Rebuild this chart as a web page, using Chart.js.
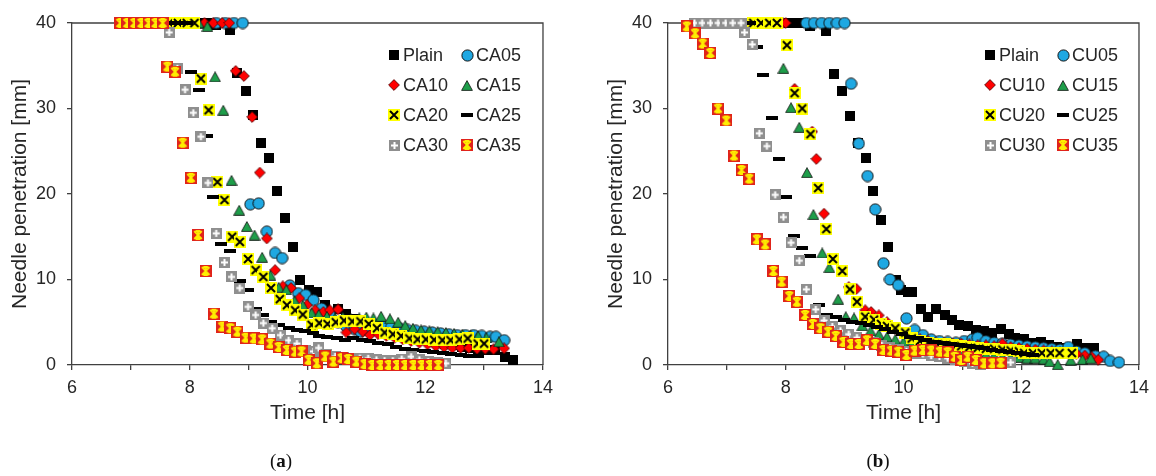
<!DOCTYPE html>
<html>
<head>
<meta charset="utf-8">
<script src="https://cdn.jsdelivr.net/npm/chart.js@4.4.1/dist/chart.umd.min.js"></script>
<style>
  html, body { margin: 0; padding: 0; background: #fff; }
  #wrap { position: relative; width: 1156px; height: 476px; overflow: hidden; }
  canvas { position: absolute; top: 0; }
  .cap { position: absolute; top: 450px; width: 60px; text-align: center; font-family: "Liberation Serif", "DejaVu Serif", serif; font-size: 19px; color: #111; }
</style>
</head>
<body>
<div id="wrap">
  <canvas id="ca" width="560" height="476" style="left:0px"></canvas>
  <canvas id="cb" width="560" height="476" style="left:596px"></canvas>
  <div class="cap" style="left:251px">(<b>a</b>)</div>
  <div class="cap" style="left:848px">(<b>b</b>)</div>
</div>
<script>
// ---------- tick labels ----------
const xTickLabels = ['6', '8', '10', '12', '14'];
const yTickLabels = ['0', '10', '20', '30', '40'];
const xTitle = 'Time [h]';
const yTitle = 'Needle penetration [mm]';

// ---------- series names ----------
const namesA = ['Plain', 'CA05', 'CA10', 'CA15', 'CA20', 'CA25', 'CA30', 'CA35'];
const namesB = ['Plain', 'CU05', 'CU10', 'CU15', 'CU20', 'CU25', 'CU30', 'CU35'];

// ---------- panel (a) data: [time h, penetration mm] ----------
const aPlain = [[8.15,40],[8.3,40],[8.45,39.8],[8.68,39.2],[8.81,34.1],[8.95,32.1],[9.08,29.2],[9.21,26.0],[9.35,24.2],[9.49,20.3],[9.61,17.2],[9.75,13.8],[9.88,10.0],[10.03,8.8],[10.16,8.5],[10.3,7.0],[10.52,6.6],[10.66,6.0],[10.8,5.4],[10.94,5.0],[11.08,4.8],[11.22,4.6],[11.36,4.4],[11.5,4.2],[11.64,4.0],[11.78,3.7],[11.92,3.4],[12.06,3.1],[12.2,2.8],[12.34,2.5],[12.48,2.3],[12.62,2.1],[12.76,2.0],[12.9,1.9],[13.04,1.8],[13.18,1.7],[13.36,0.97],[13.49,0.58]];
const aCA05 = [[8.45,40],[8.6,40],[8.75,40],[8.9,40],[9.03,18.8],[9.17,18.9],[9.31,15.6],[9.45,13.1],[9.57,12.5],[9.7,9.3],[9.84,8.4],[9.97,8.2],[10.1,7.6],[10.24,6.6],[10.38,5.9],[10.52,5.0],[10.66,4.5],[10.8,4.2],[10.9,3.9],[11.0,4.1],[11.14,4.3],[11.28,4.5],[11.42,4.4],[11.56,4.3],[11.7,4.1],[11.84,4.0],[11.98,3.9],[12.12,3.8],[12.26,3.7],[12.4,3.6],[12.54,3.5],[12.68,3.5],[12.82,3.5],[12.96,3.4],[13.1,3.3],[13.2,3.3],[13.34,2.9]];
const aCA10 = [[8.25,40],[8.4,40],[8.55,40],[8.67,40],[8.78,34.4],[8.92,33.8],[9.06,29.0],[9.19,22.5],[9.31,14.8],[9.45,11.1],[9.58,9.2],[9.72,9.0],[9.86,7.8],[9.99,7.0],[10.13,6.4],[10.27,6.2],[10.38,6.4],[10.52,6.5],[10.66,3.8],[10.8,4.2],[10.94,3.9],[11.06,3.5],[11.2,3.6],[11.34,3.4],[11.48,3.2],[11.62,3.0],[11.76,2.8],[11.9,2.6],[12.04,2.4],[12.18,2.2],[12.32,2.1],[12.46,2.0],[12.6,2.0],[12.74,2.0],[12.88,1.9],[13.02,1.9],[13.16,1.85],[13.34,1.95]];
const aCA15 = [[8.0,40],[8.15,40],[8.3,39.6],[8.43,33.7],[8.57,29.8],[8.71,21.6],[8.84,18.1],[8.97,16.2],[9.1,15.2],[9.23,12.6],[9.37,10.5],[9.51,9.1],[9.64,8.8],[9.78,7.5],[9.92,7.0],[10.07,6.1],[10.19,5.9],[10.33,5.7],[10.47,5.5],[10.6,5.6],[10.74,5.4],[10.88,5.5],[11.0,5.6],[11.12,5.5],[11.25,5.7],[11.4,5.4],[11.54,5.0],[11.66,4.6],[11.79,4.3],[11.93,4.1],[12.07,4.0],[12.21,3.9],[12.35,3.8],[12.49,3.7],[12.63,3.6],[12.77,3.5],[12.9,3.4],[13.04,3.2],[13.25,2.7]];
const aCA20 = [[7.65,40],[7.8,40],[7.95,40],[8.08,40],[8.19,33.5],[8.32,29.8],[8.47,21.4],[8.59,19.3],[8.72,15.0],[8.85,14.4],[8.99,12.4],[9.12,11.1],[9.25,10.3],[9.38,9.0],[9.53,7.7],[9.65,7.0],[9.79,6.4],[9.92,5.9],[10.07,4.7],[10.2,4.9],[10.34,4.8],[10.48,5.0],[10.62,5.2],[10.76,5.1],[10.9,5.1],[11.04,4.8],[11.18,4.3],[11.31,3.8],[11.45,3.6],[11.59,3.4],[11.73,3.1],[11.87,3.0],[12.01,3.0],[12.15,2.95],[12.29,2.9],[12.43,2.9],[12.58,3.0],[12.72,3.1],[12.89,2.5],[13.0,2.5]];
const aCA25 = [[7.65,40],[7.8,40],[7.95,40],[8.02,34.3],[8.15,32.2],[8.3,26.8],[8.4,19.6],[8.53,14.2],[8.68,13.3],[8.86,9.8],[8.99,8.8],[9.12,6.5],[9.25,5.9],[9.38,5.0],[9.51,4.7],[9.68,4.3],[9.82,4.1],[9.96,4.0],[10.1,3.8],[10.19,3.4],[10.33,3.3],[10.5,3.1],[10.64,2.9],[10.78,3.1],[10.92,2.9],[11.06,2.8],[11.2,2.6],[11.36,2.4],[11.51,2.1],[11.66,1.9],[11.8,1.7],[11.99,1.6],[12.14,1.5],[12.3,1.4],[12.44,1.3],[12.6,1.2],[12.74,1.1],[12.89,1.0]];
const aCA30 = [[7.4,40],[7.52,40],[7.65,38.9],[7.79,34.7],[7.92,32.2],[8.06,29.5],[8.19,26.7],[8.31,21.3],[8.45,15.4],[8.59,12.0],[8.71,10.3],[8.85,9.0],[8.99,6.8],[9.12,5.85],[9.25,4.9],[9.4,4.3],[9.54,3.5],[9.68,2.9],[9.82,2.5],[9.96,1.75],[10.1,1.6],[10.19,2.0],[10.33,1.2],[10.47,1.0],[10.61,0.9],[10.75,0.8],[10.89,0.8],[11.03,0.78],[11.17,0.6],[11.31,0.5],[11.45,0.5],[11.6,0.7],[11.76,0.97],[11.9,0.6],[12.05,0.4],[12.2,0.3],[12.35,0.2]];
const aCA35 = [[6.82,40],[6.94,40],[7.06,40],[7.18,40],[7.3,40],[7.42,40],[7.54,40],[7.62,34.9],[7.75,34.3],[7.88,26.0],[8.02,21.9],[8.14,15.2],[8.27,11.0],[8.41,6.0],[8.55,4.5],[8.69,4.3],[8.81,3.9],[8.95,3.2],[9.09,3.1],[9.23,3.0],[9.37,2.5],[9.51,2.1],[9.65,1.75],[9.79,1.56],[9.9,1.6],[10.02,0.6],[10.16,0.2],[10.3,1.0],[10.44,0.4],[10.58,0.8],[10.69,0.7],[10.83,0.4],[10.97,0.1],[11.1,0],[11.24,0],[11.38,0],[11.52,0],[11.66,0],[11.8,0],[11.94,0],[12.08,0],[12.22,0]];

// ---------- panel (b) data ----------
const bPlain = [[8.05,40],[8.18,40],[8.3,40],[8.42,39.6],[8.69,39.1],[8.82,34.0],[8.95,32.1],[9.09,29.1],[9.23,26.0],[9.36,24.2],[9.49,20.3],[9.62,17.0],[9.74,13.8],[9.88,9.9],[9.96,8.8],[10.08,8.5],[10.15,8.5],[10.3,6.6],[10.42,5.65],[10.56,6.6],[10.7,5.85],[10.82,5.26],[10.95,4.7],[11.09,4.56],[11.23,4.1],[11.36,4.0],[11.51,3.8],[11.65,4.2],[11.8,3.6],[11.9,3.2],[12.05,3.0],[12.19,2.6],[12.33,2.7],[12.47,2.3],[12.6,2.14],[12.75,1.95],[12.95,2.5],[13.09,1.95],[13.23,1.95]];
const bCU05 = [[8.35,40],[8.48,40],[8.61,40],[8.74,40],[8.87,40],[9.0,40],[9.11,32.9],[9.24,25.9],[9.39,22.1],[9.52,18.2],[9.66,11.9],[9.77,10.0],[9.91,9.35],[10.05,5.46],[10.19,4.1],[10.33,3.5],[10.47,3.0],[10.61,2.8],[10.75,2.7],[10.89,2.6],[11.03,2.8],[11.17,3.0],[11.26,3.2],[11.4,2.8],[11.54,2.6],[11.68,2.5],[11.82,2.4],[11.96,2.3],[12.1,2.2],[12.24,2.1],[12.38,2.0],[12.52,1.9],[12.66,1.8],[12.8,2.1],[12.94,1.6],[13.08,1.4],[13.26,1.05],[13.4,0.97],[13.51,0.47],[13.66,0.31]];
const bCU10 = [[7.95,40],[8.0,40],[8.15,32.3],[8.45,27.3],[8.52,24.1],[8.65,17.7],[9.07,9.1],[9.2,8.9],[9.35,6.4],[9.45,6.2],[9.58,5.8],[9.72,5.0],[9.86,4.2],[10.0,3.6],[10.14,3.2],[10.28,3.0],[10.42,2.8],[10.56,2.6],[10.7,2.6],[10.84,2.5],[10.98,2.5],[11.12,2.4],[11.26,2.3],[11.4,2.3],[11.54,2.2],[11.68,2.5],[11.82,2.1],[11.96,2.0],[12.1,1.9],[12.24,1.8],[12.38,1.7],[12.52,1.6],[12.66,1.5],[12.8,1.4],[12.94,1.3],[13.08,1.1],[13.2,0.9],[13.31,0.6]];
const bCU15 = [[7.96,34.7],[8.09,30.1],[8.23,27.8],[8.36,22.5],[8.47,17.6],[8.62,13.1],[8.74,11.4],[8.89,7.7],[9.02,5.65],[9.16,5.5],[9.3,4.6],[9.44,4.0],[9.58,3.6],[9.72,3.3],[9.86,3.0],[10.0,2.7],[10.14,2.5],[10.28,2.3],[10.42,2.1],[10.56,1.9],[10.7,1.8],[10.84,1.6],[10.98,1.5],[11.12,1.4],[11.26,1.3],[11.4,1.2],[11.54,1.1],[11.68,1.0],[11.82,0.9],[11.96,0.9],[12.1,0.8],[12.24,0.8],[12.38,0.7],[12.48,0.4],[12.62,0.05],[12.84,0.58],[13.04,0.66],[13.18,0.78]];
const bCU20 = [[7.45,40],[7.58,40],[7.72,40],[7.85,40],[8.02,37.4],[8.15,31.8],[8.28,30.0],[8.42,27.0],[8.55,20.7],[8.69,15.9],[8.8,12.4],[8.96,11.0],[9.09,8.85],[9.21,7.4],[9.35,5.65],[9.5,5.3],[9.62,4.8],[9.72,4.56],[9.86,4.3],[10.03,3.8],[10.14,3.1],[10.28,2.8],[10.42,2.6],[10.56,2.5],[10.7,2.4],[10.84,2.3],[10.98,2.2],[11.12,2.1],[11.26,2.0],[11.4,1.9],[11.54,1.9],[11.68,1.8],[11.82,1.7],[11.96,1.6],[12.05,1.4],[12.2,1.4],[12.35,1.4],[12.5,1.4],[12.65,1.4],[12.86,1.4]];
const bCU25 = [[7.27,40],[7.4,40],[7.52,37.2],[7.62,33.9],[7.76,28.9],[7.89,24.1],[8.01,19.7],[8.14,15.1],[8.27,13.7],[8.42,12.7],[8.56,7.0],[8.7,5.85],[8.85,5.6],[8.99,5.3],[9.13,5.0],[9.27,4.9],[9.41,4.7],[9.55,4.5],[9.69,4.2],[9.83,3.9],[9.97,3.6],[10.11,3.3],[10.25,3.1],[10.39,2.9],[10.53,2.7],[10.67,2.6],[10.81,2.4],[10.95,2.3],[11.09,2.2],[11.23,2.1],[11.37,2.0],[11.51,1.8],[11.65,1.6],[11.79,1.5],[11.93,1.4],[12.07,1.3],[12.2,1.2]];
const bCU30 = [[6.45,40],[6.58,40],[6.72,40],[6.85,40],[6.98,40],[7.1,40],[7.24,40],[7.3,38.9],[7.43,37.5],[7.55,27.1],[7.68,25.6],[7.82,19.9],[7.96,17.3],[8.09,14.3],[8.23,12.2],[8.35,8.85],[8.51,6.5],[8.65,5.2],[8.79,4.5],[8.93,4.0],[9.07,3.6],[9.21,3.2],[9.35,2.9],[9.49,2.6],[9.63,2.3],[9.77,2.0],[9.91,1.8],[10.05,1.6],[10.19,1.4],[10.33,1.3],[10.47,1.1],[10.61,1.0],[10.75,0.8],[10.89,0.6],[11.03,0.4],[11.17,0.2],[11.31,0.1],[11.45,0.2],[11.59,0.3],[11.82,0.3]];
const bCU35 = [[6.32,39.6],[6.46,38.8],[6.59,37.6],[6.72,36.5],[6.85,30.0],[6.99,28.6],[7.12,24.5],[7.25,22.8],[7.38,21.8],[7.51,14.7],[7.65,14.1],[7.79,11.0],[7.93,9.75],[8.06,8.07],[8.19,7.4],[8.33,5.85],[8.46,4.8],[8.59,4.3],[8.72,3.9],[8.85,3.4],[8.98,2.7],[9.11,2.46],[9.24,2.46],[9.38,2.9],[9.52,2.46],[9.66,1.75],[9.79,1.68],[9.91,1.56],[10.05,1.17],[10.19,1.68],[10.33,1.75],[10.47,1.7],[10.62,1.56],[10.75,1.5],[10.87,0.97],[10.98,0.58],[11.09,0.97],[11.23,0.58],[11.37,0.2],[11.51,0.2],[11.65,0.27]];

const seriesA = [aPlain, aCA05, aCA10, aCA15, aCA20, aCA25, aCA30, aCA35];
const seriesB = [bPlain, bCU05, bCU10, bCU15, bCU20, bCU25, bCU30, bCU35];

// ---------- marker images ----------
function mk(w, h, draw) {
  const c = document.createElement('canvas');
  c.width = w; c.height = h;
  draw(c.getContext('2d'));
  return c;
}
const markers = [
  mk(10, 10, g => { g.fillStyle = '#000'; g.fillRect(0, 0, 10, 10); }),
  mk(13, 13, g => { g.beginPath(); g.arc(6.5, 6.5, 5.6, 0, Math.PI * 2); g.fillStyle = '#1fa8e2'; g.fill(); g.lineWidth = 1; g.strokeStyle = '#111'; g.stroke(); }),
  mk(12, 12, g => { g.beginPath(); g.moveTo(6, 0.6); g.lineTo(11.4, 6); g.lineTo(6, 11.4); g.lineTo(0.6, 6); g.closePath(); g.fillStyle = '#ff0000'; g.fill(); g.lineWidth = 0.8; g.strokeStyle = '#400'; g.stroke(); }),
  mk(12, 11, g => { g.beginPath(); g.moveTo(6, 0.6); g.lineTo(11.4, 10.4); g.lineTo(0.6, 10.4); g.closePath(); g.fillStyle = '#1e9e4a'; g.fill(); g.lineWidth = 0.8; g.strokeStyle = '#111'; g.stroke(); }),
  mk(12, 12, g => { g.fillStyle = '#ffff00'; g.fillRect(0, 0, 12, 12); g.strokeStyle = '#000'; g.lineWidth = 2; g.beginPath(); g.moveTo(2, 2); g.lineTo(10, 10); g.moveTo(10, 2); g.lineTo(2, 10); g.stroke(); }),
  mk(12, 4, g => { g.fillStyle = '#000'; g.fillRect(0, 0, 12, 4); }),
  mk(11, 11, g => { g.fillStyle = '#8f8f8f'; g.fillRect(0, 0, 11, 11); g.fillStyle = '#fff'; g.fillRect(4.5, 2, 2, 7); g.fillRect(2, 4.5, 7, 2); }),
  mk(12, 12, g => { g.fillStyle = '#e0231b'; g.fillRect(0, 0, 12, 12); g.strokeStyle = '#ffee00'; g.lineWidth = 1.8; g.beginPath(); g.moveTo(2.2, 2.2); g.lineTo(9.8, 9.8); g.moveTo(9.8, 2.2); g.lineTo(2.2, 9.8); g.moveTo(6, 1.5); g.lineTo(6, 10.5); g.moveTo(3.5, 2); g.lineTo(8.5, 2); g.moveTo(3.5, 10); g.lineTo(8.5, 10); g.stroke(); })
];

// ---------- plugins ----------
const AXIS_COLOR = '#404040';
const TEXT_COLOR = '#262626';
const FONT = '"Liberation Sans", Arial, sans-serif';

const frame = {
  id: 'frame',
  beforeDatasetsDraw(chart) {
    const a = chart.chartArea, g = chart.ctx;
    g.save();
    g.strokeStyle = AXIS_COLOR; g.lineWidth = 1.3;
    g.beginPath();
    g.moveTo(a.left, a.top); g.lineTo(a.right, a.top); g.lineTo(a.right, a.bottom);
    g.stroke();
    g.restore();
  }
};
const legendGrid = {
  id: 'legendGrid',
  afterDraw(chart) {
    const g = chart.ctx;
    const colMarker = [394, 467], colText = [403, 476], rows = [55, 85, 115, 145];
    g.save();
    g.font = '18px ' + FONT;
    g.fillStyle = TEXT_COLOR;
    g.textBaseline = 'middle';
    chart.data.datasets.forEach((ds, i) => {
      const c = i % 2, r = Math.floor(i / 2);
      const img = markers[i];
      g.drawImage(img, Math.round(colMarker[c] - img.width / 2), Math.round(rows[r] - img.height / 2));
      g.fillStyle = TEXT_COLOR;
      g.fillText(ds.label, colText[c], rows[r] + 1);
    });
    g.restore();
  }
};

function makeChart(id, names, series) {
  return new Chart(document.getElementById(id), {
    type: 'scatter',
    data: {
      datasets: names.map((n, i) => ({
        label: n,
        data: series[i].map(p => ({ x: p[0], y: p[1] })),
        pointStyle: markers[i],
        pointRadius: 7,
        pointHoverRadius: 7,
        order: names.length - 1 - i,
        clip: false
      }))
    },
    options: {
      responsive: false,
      animation: false,
      devicePixelRatio: 1,
      layout: { padding: { left: 0, top: 23, right: 14, bottom: 50 } },
      plugins: { legend: { display: false }, tooltip: { enabled: false } },
      scales: {
        x: {
          type: 'linear', min: 6, max: 14,
          ticks: {
            stepSize: 1, autoSkip: false, maxRotation: 0, padding: 7,
            color: TEXT_COLOR, font: { family: FONT, size: 18 },
            callback: v => (xTickLabels.includes(String(v)) ? String(v) : '')
          },
          grid: { drawOnChartArea: false, drawTicks: true, tickLength: 5, color: AXIS_COLOR, lineWidth: 1.3 },
          border: { display: true, color: AXIS_COLOR, width: 1.3 },
          title: { display: true, text: xTitle, color: TEXT_COLOR, font: { family: FONT, size: 21 }, padding: { top: 0, bottom: 0 } },
          afterFit: s => { s.height = 61; }
        },
        y: {
          type: 'linear', min: 0, max: 40,
          ticks: {
            stepSize: 10, padding: 11,
            color: TEXT_COLOR, font: { family: FONT, size: 18 },
            callback: v => (yTickLabels.includes(String(v)) ? String(v) : '')
          },
          grid: { drawOnChartArea: false, drawTicks: true, tickLength: 5, color: AXIS_COLOR, lineWidth: 1.3 },
          border: { display: true, color: AXIS_COLOR, width: 1.3 },
          title: { display: true, text: yTitle, color: TEXT_COLOR, font: { family: FONT, size: 21 }, padding: { top: 8, bottom: 0 } },
          afterFit: s => { s.width = 72; }
        }
      }
    },
    plugins: [frame, legendGrid]
  });
}

makeChart('ca', namesA, seriesA);
makeChart('cb', namesB, seriesB);
</script>
</body>
</html>
